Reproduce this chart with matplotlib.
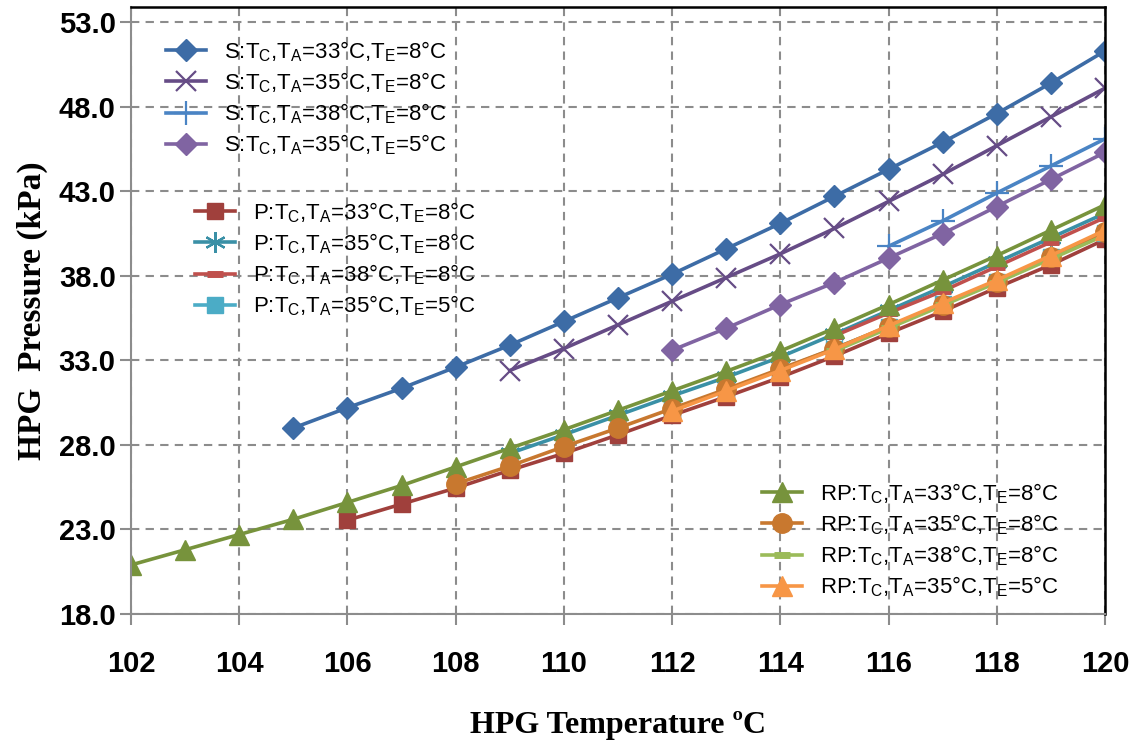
import numpy as np
import matplotlib.pyplot as plt

# HPG temperature (degC) for each series
t_s33 = [105, 106, 107, 108, 109, 110, 111, 112, 113, 114, 115, 116, 117, 118, 119, 120]
s33 = [29.0, 30.2, 31.35, 32.6, 33.9, 35.3, 36.7, 38.1, 39.6, 41.1, 42.7, 44.3, 45.9, 47.6, 49.4, 51.3]
t_s35 = [109, 110, 111, 112, 113, 114, 115, 116, 117, 118, 119, 120]
s35 = [32.4, 33.7, 35.1, 36.5, 37.9, 39.3, 40.8, 42.4, 44.0, 45.7, 47.4, 49.1]
t_s38 = [116, 117, 118, 119, 120]
s38 = [39.75, 41.25, 42.9, 44.5, 46.1]
t_s35e5 = [112, 113, 114, 115, 116, 117, 118, 119, 120]
s35e5 = [33.6, 34.9, 36.3, 37.6, 39.05, 40.5, 42.1, 43.7, 45.3]

t_p33 = [106, 107, 108, 109, 110, 111, 112, 113, 114, 115, 116, 117, 118, 119, 120]
p33 = [23.55, 24.5, 25.45, 26.5, 27.5, 28.6, 29.75, 30.85, 32.0, 33.25, 34.6, 35.9, 37.3, 38.65, 40.15]
t_p35 = [109, 110, 111, 112, 113, 114, 115, 116, 117, 118, 119, 120]
p35 = [27.5, 28.6, 29.75, 30.9, 32.0, 33.2, 34.55, 35.95, 37.35, 38.8, 40.25, 41.7]
t_p38 = [115, 116, 117, 118, 119, 120]
p38 = [34.45, 35.8, 37.1, 38.55, 40.0, 41.45]
t_p35e5 = [112, 113, 114, 115, 116, 117, 118, 119, 120]
p35e5 = [30.05, 31.25, 32.45, 33.7, 35.0, 36.35, 37.65, 39.1, 40.55]

t_rp33 = [102, 103, 104, 105, 106, 107, 108, 109, 110, 111, 112, 113, 114, 115, 116, 117, 118, 119, 120]
rp33 = [20.9, 21.8, 22.7, 23.6, 24.6, 25.6, 26.7, 27.8, 28.9, 30.05, 31.2, 32.35, 33.55, 34.9, 36.3, 37.75, 39.2, 40.7, 42.2]
t_rp35 = [108, 109, 110, 111, 112, 113, 114, 115, 116, 117, 118, 119, 120]
rp35 = [25.7, 26.75, 27.9, 29.0, 30.15, 31.3, 32.5, 33.7, 35.0, 36.3, 37.65, 39.1, 40.6]
t_rp38 = [115, 116, 117, 118, 119, 120]
rp38 = [33.55, 34.9, 36.25, 37.6, 39.0, 40.4]
t_rp35e5 = [112, 113, 114, 115, 116, 117, 118, 119, 120]
rp35e5 = [30.0, 31.2, 32.4, 33.65, 35.05, 36.4, 37.75, 39.2, 40.7]

sub = lambda ta, te: (r'T$_\mathregular{C}$,T$_\mathregular{A}$=' + ta +
                      r'°C,T$_\mathregular{E}$=' + te + '°C')

fig = plt.figure(figsize=(11.36, 7.4), dpi=100)
ax = fig.add_axes([131/1136, 1-614/740, (1105-131)/1136, (614-7)/740])

lw = 2.6
s_lines = [
    ax.plot(t_s33, s33, color='#3D6CA6', lw=lw, marker='D', ms=11, label='S:' + sub('33', '8'))[0],
    ax.plot(t_s35, s35, color='#664C86', lw=lw, marker='x', ms=15, mew=1.6, label='S:' + sub('35', '8'))[0],
    ax.plot(t_s38, s38, color='#4A84C4', lw=lw, marker='+', ms=17, mew=1.6, label='S:' + sub('38', '8'))[0],
    ax.plot(t_s35e5, s35e5, color='#8064A2', lw=lw, marker='D', ms=11, label='S:' + sub('35', '5'))[0],
]
p_lines = [
    ax.plot(t_p33, p33, color='#A0403C', lw=lw, marker='s', ms=11, label='P:' + sub('33', '8'))[0],
    ax.plot(t_p35, p35, color='#3A90A6', lw=lw, marker=(6, 2, 0), ms=15, mew=1.6, label='P:' + sub('35', '8'))[0],
    ax.plot(t_p38, p38, color='#C0504D', lw=lw, marker='_', ms=12, mew=5, label='P:' + sub('38', '8'))[0],
    ax.plot(t_p35e5, p35e5, color='#4BACC6', lw=lw, marker='s', ms=11, label='P:' + sub('35', '5'))[0],
]
rp_lines = [
    ax.plot(t_rp33, rp33, color='#77933C', lw=lw, marker='^', ms=15, label='RP:' + sub('33', '8'))[0],
    ax.plot(t_rp35, rp35, color='#C8782F', lw=lw, marker='o', ms=14, label='RP:' + sub('35', '8'))[0],
    ax.plot(t_rp38, rp38, color='#9BBB59', lw=lw, marker='_', ms=12, mew=5, label='RP:' + sub('38', '8'))[0],
    ax.plot(t_rp35e5, rp35e5, color='#F79646', lw=lw, marker='^', ms=15, label='RP:' + sub('35', '5'))[0],
]

ax.set_xlim(102, 120)
ax.set_ylim(18, 53.9)
ax.set_xticks(np.arange(102, 121, 2))
ax.set_yticks(np.arange(18, 54, 5))
ax.set_yticklabels(['%.1f' % v for v in np.arange(18, 54, 5)])
ax.grid(True, color='#8C8C8C', ls=(0, (4, 3)), lw=1.5)

for side in ['left', 'bottom']:
    ax.spines[side].set_color('#8C8C8C')
    ax.spines[side].set_linewidth(1.5)
for side in ['right', 'top']:
    ax.spines[side].set_color('black')
    ax.spines[side].set_linewidth(1.8)
ax.tick_params(length=8, width=1.5, color='#8C8C8C')
ax.tick_params(axis='y', pad=3)
ax.tick_params(axis='x', pad=18)

for lab in ax.get_xticklabels() + ax.get_yticklabels():
    lab.set_fontfamily(['Liberation Sans Narrow', 'Liberation Sans'])
    lab.set_fontweight('bold')
    lab.set_fontsize(21)

ax.set_xlabel('HPG Temperature ºC', family='Liberation Serif', weight='bold', size=23, labelpad=24)
ax.set_ylabel('HPG  Pressure (kPa)', family='Liberation Serif', weight='bold', size=24, labelpad=8)

leg_kw = dict(frameon=False, loc='upper left', borderpad=0, borderaxespad=0,
              handlelength=1.8, handletextpad=0.8, labelspacing=0.3,
              prop={'family': 'Liberation Sans', 'size': 16},
              bbox_transform=fig.transFigure)
leg1 = ax.legend(handles=s_lines, bbox_to_anchor=(166/1136, 1-39/740), **leg_kw)
ax.add_artist(leg1)
leg2 = ax.legend(handles=p_lines, bbox_to_anchor=(195/1136, 1-200/740), **leg_kw)
ax.add_artist(leg2)
leg3 = ax.legend(handles=rp_lines, bbox_to_anchor=(762/1136, 1-481/740), **leg_kw)

plt.savefig('out.png', dpi=100)
